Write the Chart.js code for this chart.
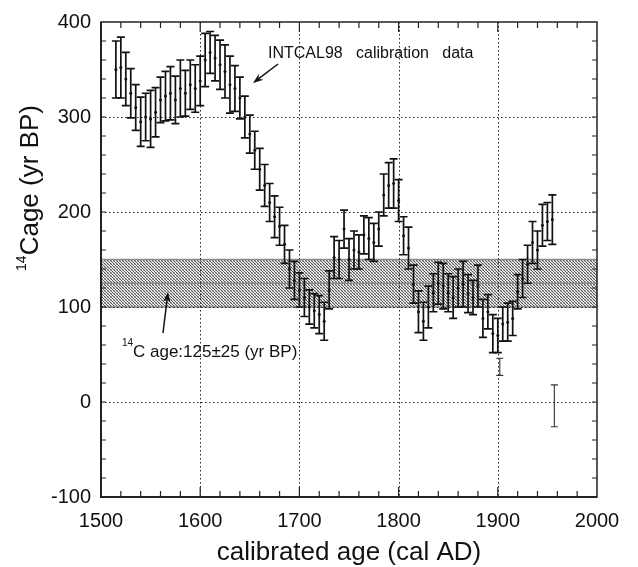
<!DOCTYPE html>
<html>
<head>
<meta charset="utf-8">
<script src="https://cdn.jsdelivr.net/npm/chart.js@4.4.0/dist/chart.umd.min.js"></script>
<style>html,body{margin:0;padding:0;background:#fff}</style>
</head>
<body>
<canvas id="chart" width="638" height="567"></canvas>
<script>
// INTCAL98 calibration data (cal AD, 14C yr BP, 1 sigma)
const years = [1515,1520,1525,1530,1535,1540,1545,1550,1555,1560,1565,1570,1575,1580,1585,1590,1595,1600,
  1605,1610,1615,1620,1625,1630,1635,1640,1645,1650,1655,1660,1665,1670,1675,1680,1685,1690,1695,1700,
  1705,1710,1715,1720,1725,1730,1735,1740,1745,1750,1755,1760,1765,1770,1775,1780,1785,1790,1795,1800,
  1805,1810,1815,1820,1825,1830,1835,1840,1845,1850,1855,1860,1865,1870,1875,1880,1885,1890,1895,1900,
  1905,1910,1915,1920,1925,1930,1935,1940,1945,1950,1955];
const c14 = [350,352,340,325,310,295,300,298,305,318,322,325,318,330,325,334,330,338,
  360,368,362,355,348,334,330,320,300,282,265,245,228,210,195,185,166,140,128,118,
  110,100,96,92,85,118,152,150,182,150,160,158,176,172,168,182,218,228,230,212,
  175,162,124,95,85,100,115,125,122,115,110,120,124,114,110,122,88,95,72,70,
  82,84,88,116,130,145,168,160,186,190,192];
const errs = [30,32,28,26,24,26,25,30,26,24,26,28,25,30,24,26,25,26,
  28,22,24,26,28,30,24,22,22,20,20,22,22,20,22,20,20,20,20,18,
  20,18,18,20,20,20,22,20,20,22,20,18,20,22,20,18,22,24,26,22,
  20,22,20,22,20,22,20,22,24,20,22,20,24,20,18,22,20,18,20,18,
  18,20,18,18,20,20,22,20,22,20,26];
// single measurements shown apart from the curve
const extraYears = [1902, 1957];
const extraC14 = [37, -4];
const extraErrs = [9, 22];

const xTicks = [1500, 1600, 1700, 1800, 1900, 2000];
const yTicks = [-100, 0, 100, 200, 300, 400];
const bandMid = 125, bandHalf = 25;

const FONT = '"Liberation Sans", Arial, Helvetica, sans-serif';

function stipple(ctx) {
  const c = document.createElement('canvas');
  c.width = 3; c.height = 3;
  const p = c.getContext('2d');
  p.fillStyle = '#ececec'; p.fillRect(0, 0, 3, 3);
  p.fillStyle = '#5a5a5a';
  p.fillRect(0, 0, 1, 1); p.fillRect(1, 1, 1, 1); p.fillRect(2, 2, 1, 1);
  p.fillStyle = '#b8b8b8';
  p.fillRect(2, 0, 1, 1); p.fillRect(0, 2, 1, 1);
  return ctx.createPattern(c, 'repeat');
}

function arrow(ctx, x1, y1, x2, y2) {
  const ang = Math.atan2(y2 - y1, x2 - x1);
  ctx.beginPath();
  ctx.moveTo(x1, y1);
  ctx.lineTo(x2 - 6 * Math.cos(ang), y2 - 6 * Math.sin(ang));
  ctx.stroke();
  ctx.beginPath();
  ctx.moveTo(x2, y2);
  ctx.lineTo(x2 - 11 * Math.cos(ang - 0.35), y2 - 11 * Math.sin(ang - 0.35));
  ctx.lineTo(x2 - 7 * Math.cos(ang), y2 - 7 * Math.sin(ang));
  ctx.lineTo(x2 - 11 * Math.cos(ang + 0.35), y2 - 11 * Math.sin(ang + 0.35));
  ctx.closePath();
  ctx.fill();
}

const overlays = {
  id: 'overlays',
  beforeDatasetsDraw(chart) {
    const { ctx, chartArea: a, scales: { x, y } } = chart;
    ctx.save();
    // 14C age band 125 +- 25
    const top = y.getPixelForValue(bandMid + bandHalf);
    const bot = y.getPixelForValue(bandMid - bandHalf);
    const mid = y.getPixelForValue(bandMid);
    ctx.fillStyle = stipple(ctx);
    ctx.fillRect(a.left, top, a.right - a.left, bot - top);
    ctx.strokeStyle = '#8a8a8a';
    ctx.lineWidth = 1.5;
    [top, bot, mid].forEach(py => {
      ctx.beginPath(); ctx.moveTo(a.left, py); ctx.lineTo(a.right, py); ctx.stroke();
    });
    // dotted grid
    ctx.setLineDash([1.5, 2.5]);
    ctx.strokeStyle = '#222';
    ctx.lineWidth = 1;
    xTicks.slice(1, -1).forEach(v => {
      const px = Math.round(x.getPixelForValue(v)) + 0.5;
      ctx.beginPath(); ctx.moveTo(px, a.top); ctx.lineTo(px, a.bottom); ctx.stroke();
    });
    yTicks.slice(1, -1).forEach(v => {
      const py = Math.round(y.getPixelForValue(v)) + 0.5;
      ctx.beginPath(); ctx.moveTo(a.left, py); ctx.lineTo(a.right, py); ctx.stroke();
    });
    ctx.restore();
  },
  afterDatasetsDraw(chart) {
    const { ctx, scales: { x, y } } = chart;
    ctx.save();
    ctx.strokeStyle = '#111';
    ctx.lineWidth = 1.7;
    const bars = (xs, vs, es, cap) => xs.forEach((t, i) => {
      const px = x.getPixelForValue(t);
      const hi = y.getPixelForValue(vs[i] + es[i]);
      const lo = y.getPixelForValue(vs[i] - es[i]);
      ctx.beginPath();
      ctx.moveTo(px, hi); ctx.lineTo(px, lo);
      ctx.moveTo(px - cap, hi); ctx.lineTo(px + cap, hi);
      ctx.moveTo(px - cap, lo); ctx.lineTo(px + cap, lo);
      ctx.stroke();
    });
    bars(years, c14, errs, 4);
    ctx.lineWidth = 1.1;
    ctx.strokeStyle = '#333';
    bars(extraYears, extraC14, extraErrs, 3.5);
    ctx.restore();
  },
  afterDraw(chart) {
    const { ctx, chartArea: a, scales: { x, y } } = chart;
    ctx.save();
    // frame
    ctx.strokeStyle = '#222';
    ctx.lineWidth = 1.5;
    ctx.strokeRect(a.left, a.top, a.right - a.left, a.bottom - a.top);
    ctx.lineWidth = 2;
    ctx.beginPath();
    ctx.moveTo(a.left, a.top); ctx.lineTo(a.left, a.bottom); ctx.lineTo(a.right, a.bottom);
    ctx.stroke();
    // inward ticks
    ctx.lineWidth = 1.2;
    for (let v = 1520; v < 2000; v += 20) {
      const px = x.getPixelForValue(v);
      const len = v % 100 === 0 ? 10 : 6;
      ctx.beginPath();
      ctx.moveTo(px, a.bottom); ctx.lineTo(px, a.bottom - len);
      ctx.moveTo(px, a.top); ctx.lineTo(px, a.top + len);
      ctx.stroke();
    }
    for (let v = -80; v < 400; v += 20) {
      const py = y.getPixelForValue(v);
      ctx.beginPath();
      ctx.moveTo(a.left, py); ctx.lineTo(a.left + 5, py);
      ctx.moveTo(a.right, py); ctx.lineTo(a.right - 5, py);
      ctx.stroke();
    }
    ctx.fillStyle = '#111';
    // axis titles
    ctx.font = '26px ' + FONT;
    ctx.textAlign = 'center';
    ctx.textBaseline = 'alphabetic';
    ctx.fillText('calibrated age (cal AD)', (a.left + a.right) / 2, 560);

    ctx.save();
    ctx.translate(38, 188);
    ctx.rotate(-Math.PI / 2);
    ctx.textAlign = 'left';
    ctx.font = '14px ' + FONT;
    const w1 = ctx.measureText('14').width;
    ctx.font = '26px ' + FONT;
    const w2 = ctx.measureText('Cage (yr BP)').width;
    const sx = -(w1 + w2) / 2;
    ctx.font = '14px ' + FONT;
    ctx.fillText('14', sx, -12);
    ctx.font = '26px ' + FONT;
    ctx.fillText('Cage (yr BP)', sx + w1, 0);
    ctx.restore();

    // annotations
    ctx.textAlign = 'left';
    ctx.font = '16px ' + FONT;
    ctx.fillText('INTCAL98   calibration   data', 268, 58);
    ctx.font = '10px ' + FONT;
    ctx.fillText('14', 122, 346);
    ctx.font = '17px ' + FONT;
    ctx.fillText('C age:125\u00b125 (yr BP)', 133, 357);

    ctx.strokeStyle = '#111';
    ctx.lineWidth = 1.5;
    arrow(ctx, 278, 64, 253, 83);
    arrow(ctx, 163, 333, 168, 292);
    ctx.restore();
  }
};

new Chart(document.getElementById('chart'), {
  type: 'scatter',
  data: {
    datasets: [
      {
        data: years.map((t, i) => ({ x: t, y: c14[i] })),
        pointRadius: 1.5,
        pointBackgroundColor: '#111',
        pointBorderWidth: 0,
        showLine: false
      },
      {
        data: extraYears.map((t, i) => ({ x: t, y: extraC14[i] })),
        pointRadius: 0,
        showLine: false
      }
    ]
  },
  options: {
    responsive: false,
    animation: false,
    layout: { padding: { top: 20, right: 41, left: 0, bottom: 0 } },
    plugins: { legend: { display: false }, tooltip: { enabled: false } },
    scales: {
      x: {
        type: 'linear',
        min: 1500,
        max: 2000,
        afterBuildTicks: s => { s.ticks = xTicks.map(v => ({ value: v })); },
        afterFit: s => { s.height = 70; },
        grid: { display: false, drawTicks: false },
        border: { display: false },
        ticks: {
          padding: 12,
          maxRotation: 0,
          color: '#111',
          font: { family: FONT, size: 20 },
          callback: v => String(v)
        }
      },
      y: {
        type: 'linear',
        min: -100,
        max: 400,
        afterBuildTicks: s => { s.ticks = yTicks.map(v => ({ value: v })); },
        afterFit: s => { s.width = 101; },
        grid: { display: false, drawTicks: false },
        border: { display: false },
        ticks: {
          padding: 10,
          color: '#111',
          font: { family: FONT, size: 20 },
          callback: v => String(v)
        }
      }
    }
  },
  plugins: [overlays]
});
</script>
</body>
</html>
